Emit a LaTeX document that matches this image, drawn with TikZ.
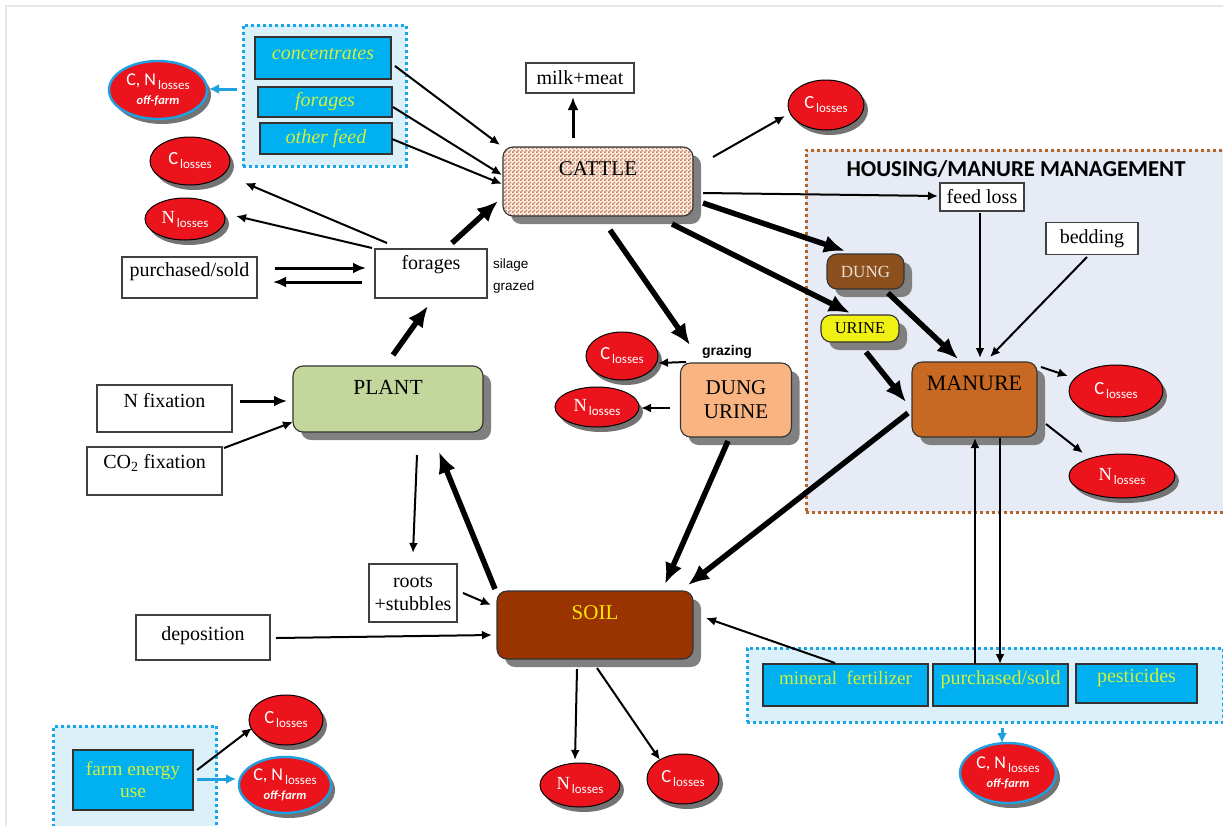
\documentclass[tikz,border=0pt]{standalone}
\usepackage{fontspec}
\setmainfont{Liberation Serif}
\newfontfamily\carl{Carlito}
\newfontfamily\arl{Liberation Sans}
\usetikzlibrary{arrows.meta,shapes.geometric,shadows,patterns,calc}
\pgfdeclarepatternformonly{cattlechk}{\pgfpointorigin}{\pgfqpoint{4pt}{4pt}}{\pgfqpoint{4pt}{4pt}}{%
  \pgfpathrectangle{\pgfpointorigin}{\pgfqpoint{2pt}{2pt}}%
  \pgfpathrectangle{\pgfqpoint{2pt}{2pt}}{\pgfqpoint{2pt}{2pt}}%
  \pgfusepath{fill}}
\definecolor{lossred}{RGB}{235,20,28}
\definecolor{offblue}{RGB}{30,160,225}
\definecolor{cyanbox}{RGB}{0,176,240}
\definecolor{ygreen}{RGB}{210,240,60}
\definecolor{groupbg}{RGB}{220,240,250}
\definecolor{groupborder}{RGB}{25,165,232}
\definecolor{housebg}{RGB}{230,235,245}
\definecolor{houseborder}{RGB}{180,100,40}
\definecolor{plantg}{RGB}{195,214,155}
\definecolor{dungbrown}{RGB}{140,80,30}
\definecolor{dungtext}{RGB}{235,225,210}
\definecolor{urineyel}{RGB}{240,240,20}
\definecolor{manurec}{RGB}{200,105,35}
\definecolor{peach}{RGB}{250,180,130}
\definecolor{soilc}{RGB}{153,51,0}
\definecolor{soiltext}{RGB}{255,230,0}
\definecolor{cattlebg}{RGB}{248,236,228}
\definecolor{cattledot}{RGB}{200,125,85}
\newcommand{\fsz}[1]{\fontsize{#1}{#1}\selectfont}
\newcommand{\lsub}{\hspace{2pt}\raisebox{-4pt}{\carl\fsz{13}losses}}
\newcommand{\closs}{{\carl\fsz{18.5}C}\lsub}
\newcommand{\nloss}{{\fsz{18.5}N}\lsub}
\newcommand{\cnoff}{{\carl\fsz{18}C, N}\lsub\\[5pt]{\carl\bfseries\itshape\fsz{12.5}off-farm}}
\begin{document}
\begin{tikzpicture}[x=1pt,y=-1pt,
  up/.style={text height=14pt,text depth=#1},
  tbox/.style={draw=black!75,line width=1.1pt,fill=white,inner sep=0pt,font=\fsz{20}},
  bbox/.style={draw=black!80,line width=1.1pt,fill=cyanbox,text=ygreen,inner sep=0pt,font=\fsz{20}},
  rbox/.style={rounded corners=10pt,draw=black!80,line width=1.1pt,inner sep=0pt,font=\fsz{21},
    drop shadow={shadow xshift=8pt,shadow yshift=-8pt,fill=black!50,opacity=1}},
  loss/.style={ellipse,draw=black,line width=1pt,fill=lossred,text=white,inner sep=0pt,align=center,
    drop shadow={shadow xshift=4pt,shadow yshift=-5pt,fill=black!55,opacity=1}},
  offloss/.style={draw=offblue,line width=2.4pt},
  grp/.style={draw=groupborder,fill=groupbg,line width=3pt,dash pattern=on 3pt off 3pt,inner sep=0pt},
  thinarr/.style={-{Latex[length=10pt,width=9pt]},line width=2pt},
  medarr/.style={-{Latex[length=13pt,width=11pt]},line width=3pt},
  thickarr/.style={-{Latex[length=21pt,width=18pt]},line width=5.5pt},
  bluearr/.style={-{Latex[length=10pt,width=10pt]},line width=3pt,draw=offblue,color=offblue}]
\useasboundingbox (0,0) rectangle (1223,825);
\clip (0,0) rectangle (1223,825);
\fill[white] (0,0) rectangle (1223,825);
\draw[black!9,line width=1.5pt] (6,835) -- (6,6) -- (1230,6);

% housing area
\node[draw=houseborder,fill=housebg,line width=3pt,dash pattern=on 3pt off 3pt,inner sep=0pt,
  minimum width=420pt,minimum height=362pt] (house) at (1016,331) {};
\node[font=\carl\bfseries\fsz{22.8}] (htitle) at (1016,169) {HOUSING/MANURE MANAGEMENT};

% groups
\node[grp,minimum width=163pt,minimum height=141pt] (fgroup) at (324.5,95.5) {};
\node[grp,minimum width=476pt,minimum height=74pt] (rgroup) at (985,685) {};
\node[grp,minimum width=163pt,minimum height=110pt] (lgroup) at (135,781) {};

% feed boxes
\node[bbox,minimum width=136pt,minimum height=42pt,up=12pt] (conc) at (323,58) {\itshape concentrates};
\node[bbox,minimum width=134pt,minimum height=30pt] (ff) at (325,102) {\itshape forages};
\node[bbox,minimum width=132pt,minimum height=31pt] (of) at (326,138.5) {\itshape other feed};

% losses left top
\node[loss,offloss,minimum width=98pt,minimum height=58pt] (cnoff1) at (158,90) {\cnoff};
\node[loss,minimum width=80pt,minimum height=48pt] (closs5) at (190,161) {\closs};
\node[loss,minimum width=80pt,minimum height=42pt] (nloss5) at (185,219) {\nloss};

\node[tbox,minimum width=135pt,minimum height=41pt,up=17pt] (ps1) at (189.5,277.5) {purchased/sold};
\node[tbox,minimum width=112pt,minimum height=49pt,up=22pt] (forg) at (431,273.5) {forages};
\node[font=\arl\fsz{13.5},anchor=west,inner sep=0pt] (silage) at (493,265) {silage};
\node[font=\arl\fsz{13.5},anchor=west,inner sep=0pt] (grazed) at (493,287) {grazed};

\node[tbox,minimum width=108pt,minimum height=30pt] (milk) at (580,78) {milk+meat};
\node[rbox,preaction={fill=cattlebg},pattern=cattlechk,pattern color=cattledot,
  minimum width=190pt,minimum height=69pt,up=27pt] (cattle) at (598,181.5) {CATTLE};
\node[loss,minimum width=76pt,minimum height=50pt] (closs1) at (826,105) {\closs};

% housing content
\node[tbox,minimum width=84pt,minimum height=28pt] (feedloss) at (982,197) {feed loss};
\node[tbox,minimum width=92pt,minimum height=32pt] (bedding) at (1092,238.5) {bedding};
\node[rbox,fill=dungbrown,text=dungtext,minimum width=77pt,minimum height=35pt,font=\fsz{17}] (dung) at (865.5,271.5) {DUNG};
\node[rbox,fill=urineyel,minimum width=78pt,minimum height=27pt,font=\fsz{16.5}] (urine) at (860,328.5) {URINE};
\node[rbox,fill=manurec,minimum width=125pt,minimum height=75pt,up=33pt,font=\fsz{22}] (manure) at (974.5,399.5) {MANURE};
\node[loss,minimum width=94pt,minimum height=52pt] (closs2) at (1116,391) {\closs};
\node[loss,minimum width=106pt,minimum height=44pt] (nloss2) at (1122,476) {\nloss};

% grazing
\node[font=\arl\bfseries\fsz{14}] (grazing) at (727,352) {grazing};
\node[rbox,fill=peach,minimum width=111pt,minimum height=74pt,align=center,font=\fontsize{21}{24}\selectfont] (du) at (736,400) {DUNG\\URINE};
\node[loss,minimum width=72pt,minimum height=48pt] (closs3) at (622,356) {\closs};
\node[loss,minimum width=84pt,minimum height=40pt] (nloss3) at (597,407) {\nloss};

% plant
\node[rbox,fill=plantg,minimum width=190pt,minimum height=66pt,up=24pt,font=\fsz{21.5}] (plant) at (388,399) {PLANT};
\node[tbox,minimum width=135pt,minimum height=47pt,up=16pt] (nfix) at (164.5,408.5) {N fixation};
\node[tbox,minimum width=135pt,minimum height=48pt,up=20pt] (co2) at (154.5,471) {CO\textsubscript{2} fixation};
\node[tbox,minimum width=88pt,minimum height=58pt,align=center,font=\fontsize{20}{23}\selectfont] (roots) at (413,593) {roots\\+stubbles};
\node[tbox,minimum width=134pt,minimum height=45pt,up=9pt] (dep) at (203,637.5) {deposition};

% soil
\node[rbox,fill=soilc,text=soiltext,minimum width=196pt,minimum height=68pt,up=26pt] (soil) at (595,625) {SOIL};
\node[loss,minimum width=80pt,minimum height=44pt] (nloss4) at (580,785) {\nloss};
\node[loss,minimum width=72pt,minimum height=50pt] (closs4) at (683,779) {\closs};

% bottom right group content
\node[bbox,minimum width=165pt,minimum height=42pt,up=16pt,font=\fsz{19}] (mf) at (845.5,685) {mineral\ \ fertilizer};
\node[bbox,minimum width=135pt,minimum height=42pt,up=16pt] (ps2) at (1000.5,685) {purchased/sold};
\node[bbox,minimum width=121pt,minimum height=39pt,up=16pt] (pest) at (1136.5,683.5) {pesticides};
\node[loss,offloss,minimum width=96pt,minimum height=60pt] (cnoff2) at (1008,773) {\cnoff};

% bottom left
\node[bbox,minimum width=120pt,minimum height=60pt,align=center,font=\fontsize{19.5}{22}\selectfont] (fe) at (133,780) {farm energy\\use};
\node[loss,minimum width=74pt,minimum height=50pt] (closs6) at (286,720) {\closs};
\node[loss,offloss,minimum width=92pt,minimum height=56pt] (cnoff3) at (285,785) {\cnoff};

% arrows
\draw[thinarr] ($(conc.center)+(72,8)$) -- ($(cattle.center)+(-98,-36.5)$);
\draw[thinarr] ($(ff.center)+(68,5)$) -- ($(cattle.center)+(-96,-6.5)$);
\draw[thinarr] ($(of.center)+(66,0.5)$) -- ($(cattle.center)+(-96,2.5)$);
\draw[medarr] ($(cattle.center)+(-25,-43.5)$) -- ($(milk.center)+(-7,19)$);
\draw[thinarr] ($(cattle.center)+(115,-24.5)$) -- ($(closs1.center)+(-41,11)$);
\draw[thinarr] ($(cattle.center)+(105,11.5)$) -- ($(feedloss.center)+(-44,-1)$);
\draw[thickarr] ($(cattle.center)+(105,21.5)$) -- ($(dung.center)+(-20.5,-20.5)$);
\draw[thickarr] ($(cattle.center)+(74,42.5)$) -- ($(urine.center)+(-10,-15.5)$);
\draw[thickarr] ($(cattle.center)+(12,48.5)$) -- ($(du.center)+(-46,-55)$);
\draw[thickarr] ($(dung.center)+(22.5,21.5)$) -- ($(manure.center)+(-16.5,-40.5)$);
\draw[thinarr] ($(feedloss.center)+(-2,16)$) -- ($(manure.center)+(5.5,-41.5)$);
\draw[thinarr] ($(bedding.center)+(-5,18.5)$) -- ($(manure.center)+(15.5,-42.5)$);
\draw[thickarr] ($(urine.center)+(6,23.5)$) -- ($(manure.center)+(-68.5,2.5)$);
\draw[thinarr] ($(manure.center)+(66.5,-32.5)$) -- ($(closs2.center)+(-48,-15)$);
\draw[thinarr] ($(manure.center)+(71.5,24.5)$) -- ($(nloss2.center)+(-39,-23)$);
\draw[thickarr] ($(manure.center)+(-66.5,13.5)$) -- ($(soil.center)+(93,-40)$);
\draw[thickarr] ($(du.center)+(-8,41)$) -- ($(soil.center)+(70,-41)$);
\draw[thinarr] ($(du.center)+(-50,-38)$) -- ($(closs3.center)+(36,7)$);
\draw[thinarr] ($(du.center)+(-66,8)$) -- ($(nloss3.center)+(44,1)$);
\draw[thinarr] ($(ps2.center)+(-25.5,-21)$) -- ($(manure.center)+(0.5,38.5)$);
\draw[thinarr] ($(manure.center)+(25.5,38.5)$) -- ($(ps2.center)+(-0.5,-21)$);
\draw[thinarr] ($(mf.center)+(-10.5,-22)$) -- ($(soil.center)+(111,-7)$);
\draw[bluearr] ($(rgroup.center)+(17,43)$) -- ($(cnoff2.center)+(-6,-30)$);
\draw[thinarr] ($(soil.center)+(-18,44)$) -- ($(nloss4.center)+(-5,-25)$);
\draw[thinarr] ($(soil.center)+(2,43)$) -- ($(closs4.center)+(-23,-19)$);
\draw[thinarr] ($(dep.center)+(73,0.5)$) -- ($(soil.center)+(-103,10)$);
\draw[thinarr] ($(roots.center)+(50,0)$) -- ($(soil.center)+(-104,-20)$);
\draw[thinarr] ($(plant.center)+(29,56)$) -- ($(roots.center)+(0,-40)$);
\draw[thickarr] ($(soil.center)+(-100,-36)$) -- ($(plant.center)+(51,53)$);
\draw[medarr] ($(nfix.center)+(75.5,-7.5)$) -- ($(plant.center)+(-101,2)$);
\draw[thinarr] ($(co2.center)+(69.5,-23)$) -- ($(plant.center)+(-95,23)$);
\draw[thickarr] ($(plant.center)+(5,-44)$) -- ($(forg.center)+(-3,32.5)$);
\draw[thickarr] ($(forg.center)+(21,-30.5)$) -- ($(cattle.center)+(-100,19.5)$);
\draw[thinarr] ($(forg.center)+(-44,-30.5)$) -- ($(closs5.center)+(55,22)$);
\draw[thinarr] ($(forg.center)+(-59,-25.5)$) -- ($(nloss5.center)+(51,-3)$);
\draw[medarr] ($(ps1.center)+(85.5,-9.5)$) -- ($(forg.center)+(-65,-5.5)$);
\draw[medarr] ($(forg.center)+(-69,8.5)$) -- ($(ps1.center)+(83.5,4.5)$);
\draw[bluearr] ($(fgroup.center)+(-87.5,-6.5)$) -- ($(cnoff1.center)+(51,-1)$);
\draw[thinarr] ($(fe.center)+(64,-10)$) -- ($(closs6.center)+(-34,8)$);
\draw[bluearr] ($(fe.center)+(64,-1)$) -- ($(cnoff3.center)+(-49,-6)$);
\end{tikzpicture}
\end{document}
